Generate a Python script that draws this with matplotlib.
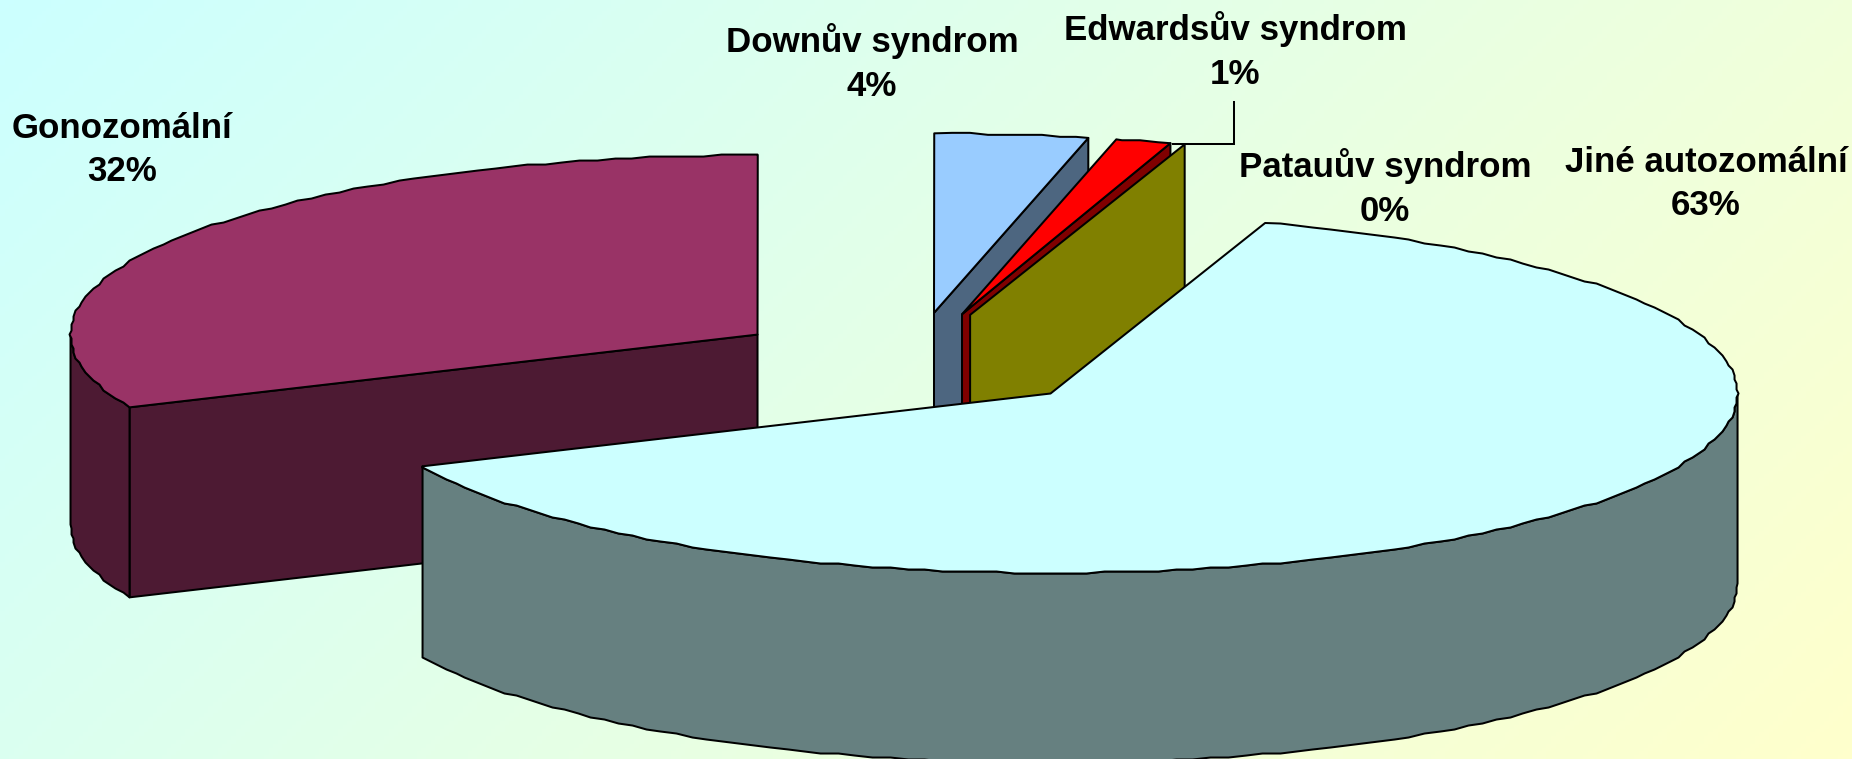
import numpy as np
import matplotlib
matplotlib.use("Agg")
import matplotlib.pyplot as plt
from matplotlib.colors import LinearSegmentedColormap
from matplotlib.patches import Polygon

categories = ["Jiné autozomální", "Gonozomální", "Downův syndrom", "Edwardsův syndrom", "Patauův syndrom"]
values = [63.3, 31.65, 3.6, 1.3, 0.15]
percent_labels = ["63%", "32%", "4%", "1%", "0%"]
top_colors = ["#CCFFFF", "#993366", "#99CCFF", "#FF0000", "#FFFF00"]
wall_colors = ["#668080", "#4D1A33", "#4D6680", "#800000", "#808000"]
label_xy = [(1706, 184), (122, 150), (872, 63), (1235, 51), (1385, 188)]
draw_order = [1, 2, 3, 4, 0]

W, H = 1852, 759
CX, CY = 913, 361
A, B, DEPTH = 687, 179.5, 190
EXPLODE = 0.27
START = 18.2
LW = 1.45
GRID = 2.0
STEP = 1.5

fig = plt.figure(figsize=(W / 100, H / 100), dpi=100)
ax = fig.add_axes([0, 0, 1, 1])
ax.set_xlim(0, W)
ax.set_ylim(H, 0)
ax.axis("off")

yy, xx = np.mgrid[0:1:200j, 0:1:400j]
grad = (xx * W + yy * H) / (W + H)
cmap = LinearSegmentedColormap.from_list("bg", ["#CCFFFF", "#FFFFCC"])
ax.imshow(grad, cmap=cmap, extent=(0, W, H, 0), aspect="auto", zorder=0, vmin=0, vmax=1)


def rim(cx, cy, t0, t1):
    # sampled on a shared angle grid, so top rim and wall rim coincide
    inner = np.arange(np.ceil(t0 / STEP + 1e-6), np.floor(t1 / STEP - 1e-6) + 1) * STEP
    t = np.radians(inner)
    # the outline of the original is a coarse polygon with a slight wobble
    pts = np.round(np.column_stack([A * np.sin(t), -B * np.cos(t)]) / GRID) * GRID
    ends = np.radians([t0, t1])
    e = np.column_stack([A * np.sin(ends), -B * np.cos(ends)])
    return np.vstack([e[:1], pts, e[1:]]) + [cx, cy]


def add(points, color, z):
    ax.add_patch(Polygon(points, closed=True, facecolor=color, edgecolor="black",
                         linewidth=LW, joinstyle="round", zorder=z))


edges = START + np.concatenate([[0], np.cumsum(values)]) * 3.6
z = 2
for i in draw_order:
    t0, t1 = edges[i], edges[i + 1]
    mid = np.radians((t0 + t1) / 2)
    cx = CX + EXPLODE * A * np.sin(mid)
    cy = CY - EXPLODE * B * np.cos(mid)
    apex = np.array([[cx, cy]])
    drop = np.array([0, DEPTH])
    arc = rim(cx, cy, t0, t1)

    # cut faces that look towards the viewer
    for t in (t0, t1):
        tm = (t + 360) % 360
        a = np.radians(t)
        end = np.array([cx + A * np.sin(a), cy - B * np.cos(a)])
        faces_front = (t == t1 and 0.5 <= tm <= 180) or (t == t0 and 180 <= tm <= 360)
        if faces_front:
            add(np.vstack([apex, [end], [end + drop], apex + drop]), wall_colors[i], z)
            z += 1

    # outer wall, lower half of the ellipse only
    lo, hi = max(t0, 90), min(t1, 270)
    if lo < hi:
        front = rim(cx, cy, lo, hi)
        add(np.vstack([front, (front + drop)[::-1]]), wall_colors[i], z)
        z += 1

    # top face
    if i != 4:
        add(np.vstack([apex, arc]), top_colors[i], z)
    z += 1

for cat, pct, (x, y) in zip(categories, percent_labels, label_xy):
    ax.text(x, y, f"{cat}\n{pct}", ha="center", va="center", family="Liberation Sans",
            weight="bold", fontsize=25.1, color="black", linespacing=1.42, zorder=50)

ax.plot([1234, 1234, 1173], [102, 144, 144], color="black", lw=LW, zorder=49,
        solid_joinstyle="miter")

fig.savefig("out.png", dpi=100)
